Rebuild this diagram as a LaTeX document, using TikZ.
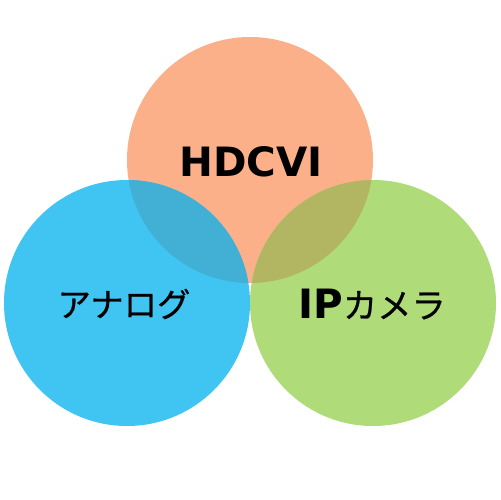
\documentclass[tikz,border=0pt]{standalone}
\usepackage{fontspec}
\setmainfont{DejaVu Sans}
\newfontfamily\jpfont[FakeBold=0.6]{Noto Sans CJK JP}
\definecolor{cOr}{RGB}{251,176,138}
\definecolor{cBl}{RGB}{64,196,242}
\definecolor{cGr}{RGB}{175,219,120}
\definecolor{cBO}{RGB}{66,175,212}
\definecolor{cGO}{RGB}{178,182,98}
\begin{document}
\begin{tikzpicture}[x=0.02cm,y=-0.02cm,
  lbl/.style={inner sep=0pt,anchor=center}]
\useasboundingbox (0,0) rectangle (500,500);
\fill[white] (0,0) rectangle (500,500);
\coordinate (cO) at (250,160);
\coordinate (cB) at (127,303);
\coordinate (cG) at (373,303);
\fill[cOr] (cO) circle[radius=123];
\fill[cBl] (cB) circle[radius=123];
\fill[cGr] (cG) circle[radius=123];
\begin{scope}
  \clip (cO) circle[radius=123];
  \fill[cBO] (cB) circle[radius=123];
  \fill[cGO] (cG) circle[radius=123];
\end{scope}
\node[lbl,font=\bfseries\fontsize{23}{26}\selectfont] (hd) at (251,162) {HDCVI};
\node[lbl,font=\jpfont\fontsize{19}{22}\selectfont] (an) at (124,304) {アナログ};
\node[lbl] (ip) at (372,304) {{\bfseries\fontsize{23}{26}\selectfont IP}{\jpfont\fontsize{19.5}{22}\selectfont カメラ}};
\end{tikzpicture}
\end{document}
